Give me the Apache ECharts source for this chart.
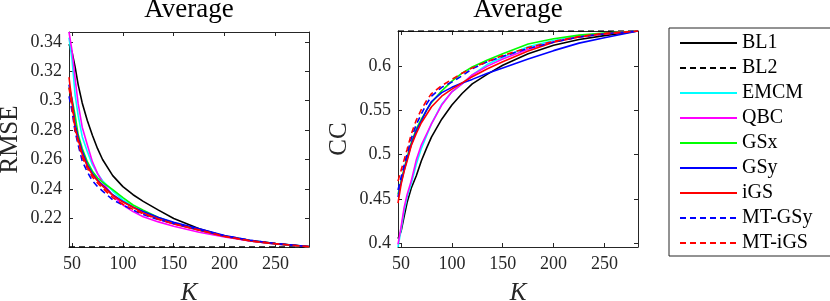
<!DOCTYPE html>
<html>
<head>
<meta charset="utf-8">
<script src="https://cdn.jsdelivr.net/npm/echarts@6/dist/echarts.min.js"></script>
<style>
html,body{margin:0;padding:0;background:#fff;}
#c{width:830px;height:301px;}
</style>
</head>
<body>
<div id="c"></div>
<script>
// ---- data ----
const K = [47, 50, 53, 56, 60, 65, 70, 75, 80, 90, 100, 110, 120, 135, 150, 175, 200, 225, 250, 283];
const seriesNames = ['BL1', 'BL2', 'EMCM', 'QBC', 'GSx', 'GSy', 'iGS', 'MT-GSy', 'MT-iGS'];

// RMSE (left panel)
const rmseBL1   = [0.3385,0.333,0.323,0.311,0.2985,0.2865,0.2765,0.2675,0.26,0.249,0.2415,0.236,0.2315,0.2255,0.2198,0.2128,0.2077,0.2045,0.2025,0.2007];
const rmseBL2   = 0.2004;
const rmseEMCM  = [0.343,0.328,0.304,0.29,0.2755,0.2655,0.2565,0.2505,0.2455,0.2385,0.2325,0.228,0.2245,0.22,0.2165,0.2118,0.2078,0.2048,0.2027,0.2006];
const rmseQBC   = [0.3468,0.334,0.315,0.298,0.282,0.27,0.2585,0.2505,0.2445,0.2355,0.229,0.2245,0.221,0.2175,0.2145,0.2105,0.2072,0.2045,0.2025,0.2006];
const rmseGSx   = [0.309,0.301,0.29,0.277,0.2675,0.2585,0.252,0.2475,0.2445,0.2395,0.234,0.229,0.2255,0.2205,0.2165,0.212,0.2078,0.2048,0.2027,0.2006];
const rmseGSy   = [0.311,0.30,0.284,0.275,0.2655,0.2565,0.2505,0.246,0.2425,0.236,0.2315,0.2275,0.2245,0.2205,0.2172,0.2128,0.2082,0.205,0.2028,0.2007];
const rmseiGS   = [0.316,0.299,0.281,0.2735,0.2635,0.2555,0.2495,0.2455,0.2418,0.2355,0.231,0.2275,0.2235,0.2195,0.216,0.2118,0.2076,0.2046,0.2026,0.2006];
const rmseMTGSy = [0.303,0.293,0.279,0.27,0.259,0.2515,0.2455,0.2415,0.2385,0.2325,0.229,0.2255,0.2225,0.219,0.2165,0.2122,0.208,0.205,0.2028,0.2006];
const rmseMTiGS = [0.309,0.295,0.28,0.272,0.2615,0.254,0.248,0.244,0.2405,0.234,0.2295,0.226,0.223,0.2192,0.2162,0.212,0.2077,0.2047,0.2027,0.2006];

// CC (right panel)
const ccBL1   = [0.405,0.413,0.43,0.446,0.462,0.476,0.493,0.507,0.52,0.54,0.556,0.569,0.58,0.591,0.601,0.614,0.6235,0.63,0.6345,0.6397];
const ccBL2   = 0.6397;
const ccEMCM  = [0.3955,0.415,0.436,0.452,0.467,0.489,0.507,0.521,0.535,0.557,0.571,0.58,0.59,0.602,0.61,0.622,0.629,0.634,0.637,0.6397];
const ccQBC   = [0.3985,0.418,0.44,0.455,0.47,0.494,0.511,0.523,0.535,0.556,0.571,0.58,0.59,0.6,0.608,0.619,0.6275,0.633,0.6365,0.6397];
const ccGSx   = [0.455,0.47,0.484,0.497,0.513,0.529,0.54,0.55,0.559,0.572,0.583,0.592,0.599,0.607,0.614,0.625,0.631,0.635,0.6375,0.6397];
const ccGSy   = [0.452,0.468,0.482,0.495,0.511,0.527,0.538,0.55,0.56,0.57,0.576,0.581,0.585,0.592,0.598,0.608,0.6175,0.626,0.632,0.6397];
const cciGS   = [0.445,0.466,0.481,0.493,0.51,0.524,0.536,0.545,0.554,0.566,0.574,0.581,0.588,0.597,0.605,0.617,0.627,0.633,0.6365,0.6397];
const ccMTGSy = [0.46,0.474,0.488,0.501,0.518,0.534,0.546,0.557,0.566,0.576,0.582,0.589,0.597,0.605,0.611,0.62,0.627,0.633,0.6365,0.6397];
const ccMTiGS = [0.47,0.482,0.494,0.506,0.523,0.539,0.551,0.561,0.569,0.578,0.585,0.592,0.598,0.605,0.612,0.621,0.628,0.6335,0.637,0.6397];

// ticks
const xTicks = [50, 100, 150, 200, 250];
const rmseTicks = [0.22, 0.24, 0.26, 0.28, 0.30, 0.32, 0.34];
const ccTicks = [0.40, 0.45, 0.50, 0.55, 0.60];
const xRange = [47, 283];
const rmseRange = [0.2004, 0.3468];
const ccRange = [0.3955, 0.6397];

// ---- build ----
const FONT = 'Liberation Serif';
const AX = '#262626';
const colors = ['#000000','#000000','#00FFFF','#FF00FF','#00FF00','#0000FF','#FF0000','#0000FF','#FF0000'];
const dashed = [false,true,false,false,false,false,false,true,true];
const fmt = v => String(+v.toFixed(2));
const labelRich = { t: { fontFamily: FONT, fontSize: 18, color: AX } };

function pairs(arr) { return K.map((k, i) => [k, arr[i]]); }
function flat(v) { return [[xRange[0], v], [xRange[1], v]]; }

const leftData = [pairs(rmseBL1), flat(rmseBL2), pairs(rmseEMCM), pairs(rmseQBC), pairs(rmseGSx), pairs(rmseGSy), pairs(rmseiGS), pairs(rmseMTGSy), pairs(rmseMTiGS)];
const rightData = [pairs(ccBL1), flat(ccBL2), pairs(ccEMCM), pairs(ccQBC), pairs(ccGSx), pairs(ccGSy), pairs(cciGS), pairs(ccMTGSy), pairs(ccMTiGS)];

function xAx(grid, top) {
  return {
    type: 'value', gridIndex: grid, position: top ? 'top' : 'bottom',
    min: xRange[0], max: xRange[1],
    axisLine: { show: true, onZero: false, lineStyle: { color: AX, width: 1 } },
    axisTick: { show: true, inside: true, length: 4, customValues: xTicks, lineStyle: { color: AX } },
    axisLabel: { show: !top, customValues: xTicks, margin: 8, fontFamily: FONT, fontSize: 18, color: AX,
                 formatter: v => '{t|' + fmt(v) + '}', rich: labelRich },
    splitLine: { show: false },
    name: top ? '' : 'K', nameLocation: 'middle', nameGap: 34,
    nameTextStyle: { fontFamily: FONT, fontSize: 25, fontStyle: 'italic', color: AX }
  };
}
function yAx(grid, right, range, ticks, name) {
  return {
    type: 'value', gridIndex: grid, position: right ? 'right' : 'left',
    min: range[0], max: range[1],
    axisLine: { show: true, onZero: false, lineStyle: { color: AX, width: 1 } },
    axisTick: { show: true, inside: true, length: 4, customValues: ticks, lineStyle: { color: AX } },
    axisLabel: { show: !right, customValues: ticks, margin: 7, fontFamily: FONT, fontSize: 18, color: AX,
                 formatter: v => '{t|' + fmt(v) + '}', rich: labelRich },
    splitLine: { show: false },
    name: right ? '' : name, nameLocation: 'middle', nameGap: right ? 0 : 46, nameRotate: 90,
    nameTextStyle: { fontFamily: FONT, fontSize: 25, color: AX }
  };
}

const series = [];
[leftData, rightData].forEach((set, g) => {
  set.forEach((d, i) => {
    series.push({
      name: seriesNames[i], type: 'line', xAxisIndex: g * 2, yAxisIndex: g * 2,
      data: d, symbol: 'none', showSymbol: false, animation: false,
      lineStyle: { color: colors[i], width: 1.6, type: dashed[i] ? [6, 4] : 'solid' },
      itemStyle: { color: colors[i] }
    });
  });
});

const chart = echarts.init(document.getElementById('c'), null, { renderer: 'canvas' });
chart.setOption({
  backgroundColor: '#fff',
  animation: false,
  textStyle: { fontFamily: FONT },
  title: [
    { text: 'Average', left: 189, top: -4, padding: 0, textAlign: 'center', textStyle: { fontFamily: FONT, fontSize: 27, fontWeight: 'normal', color: '#000' } },
    { text: 'Average', left: 518, top: -4, padding: 0, textAlign: 'center', textStyle: { fontFamily: FONT, fontSize: 27, fontWeight: 'normal', color: '#000' } }
  ],
  grid: [
    { left: 69, top: 32, width: 240, height: 215, containLabel: false, outerBoundsMode: 'none' },
    { left: 398, top: 31, width: 240, height: 216, containLabel: false, outerBoundsMode: 'none' }
  ],
  xAxis: [xAx(0, false), xAx(0, true), xAx(1, false), xAx(1, true)],
  yAxis: [yAx(0, false, rmseRange, rmseTicks, 'RMSE'), yAx(0, true, rmseRange, rmseTicks, ''),
          yAx(1, false, ccRange, ccTicks, 'CC'), yAx(1, true, ccRange, ccTicks, '')],
  legend: {
    orient: 'vertical', left: 669, top: 28,
    data: seriesNames,
    itemWidth: 57, itemHeight: 10, itemGap: 5,
    padding: [5, 19, 3, 10],
    borderColor: '#262626', borderWidth: 1, backgroundColor: '#fff',
    itemStyle: { opacity: 0 },
    textStyle: { fontFamily: FONT, fontSize: 20, color: '#000', lineHeight: 20 },
    selectedMode: false
  },
  series: series
});
</script>
</body>
</html>
